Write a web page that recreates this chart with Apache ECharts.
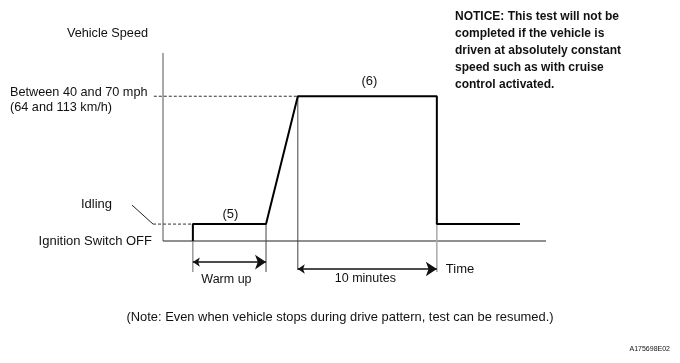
<!DOCTYPE html>
<html>
<head>
<meta charset="utf-8">
<script src="https://cdn.jsdelivr.net/npm/echarts@6/dist/echarts.min.js"></script>
<style>
html,body{margin:0;padding:0;background:#fff;}
#chart{width:680px;height:363px;}
</style>
</head>
<body>
<div id="chart"></div>
<script>
// ---- data (schematic units: time 0..100, speed 0..100) ----
const patternTime  = [7.8, 7.8, 26.9, 35.2, 71.5, 71.5, 93.2];
const patternSpeed = [0,   9,   9,    77,   77,   9,    9];
const cruiseLevel = 77;
const idleLevel = 9;
const warmUpSpan = [7.8, 26.9];
const tenMinuteSpan = [35.2, 71.5];
const axisTimeMax = 100;
const axisSpeedMax = 100;
const speedLevelLabels = ['Between 40 and 70 mph\n(64 and 113 km/h)', 'Idling', 'Ignition Switch OFF'];
const stepLabels = ['(5)', '(6)'];
const spanLabels = ['Warm up', '10 minutes'];
const axisTitles = ['Vehicle Speed', 'Time'];
const noticeText = 'NOTICE: This test will not be\ncompleted if the vehicle is\ndriven at absolutely constant\nspeed such as with cruise\ncontrol activated.';
const noteText = '(Note: Even when vehicle stops during drive pattern, test can be resumed.)';
const figureId = 'A175698E02';

const FONT = '"Liberation Sans", Arial, sans-serif';
const chart = echarts.init(document.getElementById('chart'), null, {renderer: 'canvas'});

function seg(name, pts, color, width, type) {
  return {
    type: 'line', name: name, data: pts, symbol: 'none', silent: true,
    lineStyle: {color: color, width: width, type: type || 'solid'}, z: 2
  };
}

const pattern = patternTime.map((t, i) => [t, patternSpeed[i]]);
const tickBottom = -16.5;

const option = {
  animation: false,
  backgroundColor: '#ffffff',
  grid: {left: 124.7, right: 134, top: 53, bottom: 84.4},
  xAxis: {type: 'value', min: -10, max: axisTimeMax, show: false},
  yAxis: {type: 'value', min: -20, max: axisSpeedMax, show: false},
  series: [
    seg('yAxisLine', [[0, 0], [0, axisSpeedMax]], '#8c8c8c', 1.5),
    seg('xAxisLine', [[0, 0], [axisTimeMax, 0]], '#222', 1.2),
    seg('cruiseRef', [[-2.4, cruiseLevel], [patternTime[3], cruiseLevel]], '#333', 1, [3, 2]),
    seg('idleRef', [[-2.6, idleLevel], [patternTime[0], idleLevel]], '#333', 1, [3, 2]),
    seg('idleLeader', [[-8.1, 19.1], [-2.6, idleLevel]], '#222', 1),
    seg('mark1', [[warmUpSpan[0], 0], [warmUpSpan[0], tickBottom]], '#666', 1),
    seg('mark2', [[warmUpSpan[1], idleLevel], [warmUpSpan[1], tickBottom]], '#444', 1),
    seg('mark3', [[tenMinuteSpan[0], cruiseLevel], [tenMinuteSpan[0], tickBottom + 1]], '#444', 1),
    seg('mark4', [[tenMinuteSpan[1], idleLevel], [tenMinuteSpan[1], tickBottom]], '#aaa', 1.5),
    {
      type: 'line', name: 'pattern', data: pattern, symbol: 'none', silent: true,
      lineStyle: {color: '#000', width: 2}, z: 5
    },
    {
      type: 'lines', coordinateSystem: 'cartesian2d', silent: true,
      symbol: ['arrow', 'arrow'], symbolSize: [7, 11],
      lineStyle: {color: '#111', width: 1.5, opacity: 1},
      data: [
        {coords: [[warmUpSpan[0], -11.2], [warmUpSpan[1], -11.2]]},
        {coords: [[tenMinuteSpan[0], -14.9], [tenMinuteSpan[1], -14.9]]}
      ],
      z: 4
    }
  ]
};
chart.setOption(option);

const px = (x, y) => chart.convertToPixel({gridIndex: 0}, [x, y]);
function txt(text, pos, align, vAlign, size, weight, lh) {
  return {
    type: 'text', x: pos[0], y: pos[1], silent: true,
    style: {
      text: text, fill: '#111', align: align, verticalAlign: vAlign,
      font: (weight || 'normal') + ' ' + size + 'px ' + FONT, lineHeight: lh
    }
  };
}
const yAxisPx = px(0, 0)[0];
const cruisePx = px(0, cruiseLevel);
const idlePx = px(0, idleLevel);
const zeroPx = px(0, 0);
const p5 = px((warmUpSpan[0] + warmUpSpan[1]) / 2, idleLevel);
const p6 = px((tenMinuteSpan[0] + tenMinuteSpan[1]) / 2, cruiseLevel);
const wu = px((warmUpSpan[0] + warmUpSpan[1]) / 2, -11.2);
const tm = px((tenMinuteSpan[0] + tenMinuteSpan[1]) / 2, -14.9);
const timePx = px(tenMinuteSpan[1], -14.9);
const topPx = px(0, axisSpeedMax);

chart.setOption({
  graphic: [
    txt(axisTitles[0], [yAxisPx - 15, topPx[1] - 20], 'right', 'middle', 12.7),
    txt(speedLevelLabels[0], [10, cruisePx[1] + 4], 'left', 'middle', 12.7, 'normal', 15),
    txt(speedLevelLabels[1], [yAxisPx - 51, idlePx[1] - 20], 'right', 'middle', 13),
    txt(speedLevelLabels[2], [yAxisPx - 11, zeroPx[1]], 'right', 'middle', 13),
    txt(stepLabels[0], [p5[0] + 1, p5[1] - 10], 'center', 'middle', 13),
    txt(stepLabels[1], [p6[0] + 2, p6[1] - 15], 'center', 'middle', 13),
    txt(spanLabels[0], [wu[0] - 3, wu[1] + 17], 'center', 'middle', 12.5),
    txt(spanLabels[1], [tm[0] - 2, tm[1] + 10], 'center', 'middle', 12.5),
    txt(axisTitles[1], [timePx[0] + 9, timePx[1]], 'left', 'middle', 13),
    txt(noticeText, [455, 8], 'left', 'top', 12, 'bold', 17),
    txt(noteText, [340, 317], 'center', 'middle', 12.9),
    txt(figureId, [670, 349], 'right', 'middle', 7)
  ]
});
</script>
</body>
</html>
